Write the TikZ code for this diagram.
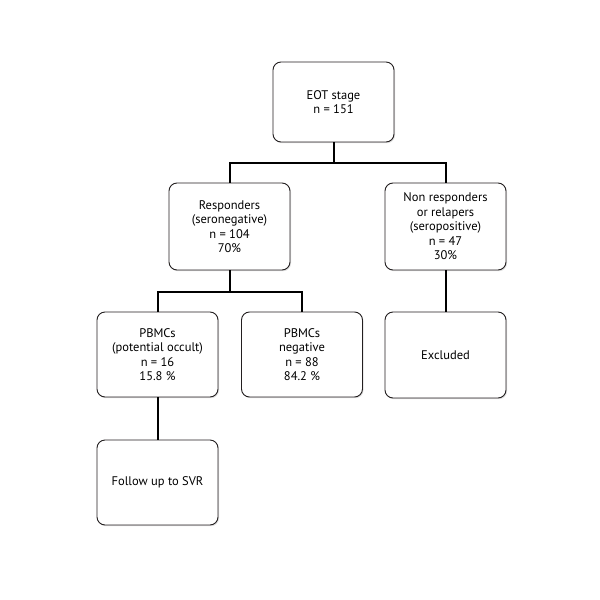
\documentclass[tikz,border=0pt]{standalone}
\usepackage{fontspec}
\setmainfont{PT Sans}
\usetikzlibrary{positioning, shadows}
\definecolor{boxline}{HTML}{231F20}

\begin{document}
\begin{tikzpicture}[x=1pt, y=-1pt,
    font=\fontsize{12.5}{14.5}\selectfont,
    box/.style={draw=boxline, line width=0.9pt, rounded corners=8pt, fill=white,
      align=center, minimum width=121pt, inner sep=2pt,
      drop shadow={shadow xshift=1pt, shadow yshift=-1.2pt, opacity=0.25}},
    link/.style={draw=black, line width=2pt}]
    \fill[white] (0,0) rectangle (600,600);
    \node[box, minimum height=80pt] (eot) at (333.5,102) {EOT stage\\n = 151};
    \node[box, minimum height=87pt] (resp) at (229.5,226.5)
      {Responders\\(seronegative)\\n = 104\\70\%};
    \node[box, minimum height=87pt] (nonresp) at (445.5,226.5)
      {Non responders\\or relapers\\(seropositive)\\n = 47\\30\%};
    \node[box, minimum height=85pt] (occult) at (157.5,354.5)
      {PBMCs\\(potential occult)\\n = 16\\15.8 \%};
    \node[box, minimum height=85pt] (neg) at (302,354.5)
      {PBMCs\\negative\\n = 88\\84.2 \%};
    \node[box, minimum height=86pt] (excl) at (445.5,355) {Excluded};
    \node[box, minimum height=85pt] (follow) at (157.5,482.5) {Follow up to SVR};
    % connectors
    \draw[link] (eot.south) -- ++(0,21) coordinate (j1) -| (resp.north);
    \draw[link] (j1) -| (nonresp.north);
    \draw[link] (resp.south) -- ++(0,22) coordinate (j2) -| (occult.north);
    \draw[link] (j2) -| (neg.north);
    \draw[link] (nonresp) -- (excl);
    \draw[link] (occult) -- (follow);
\end{tikzpicture}
\end{document}
